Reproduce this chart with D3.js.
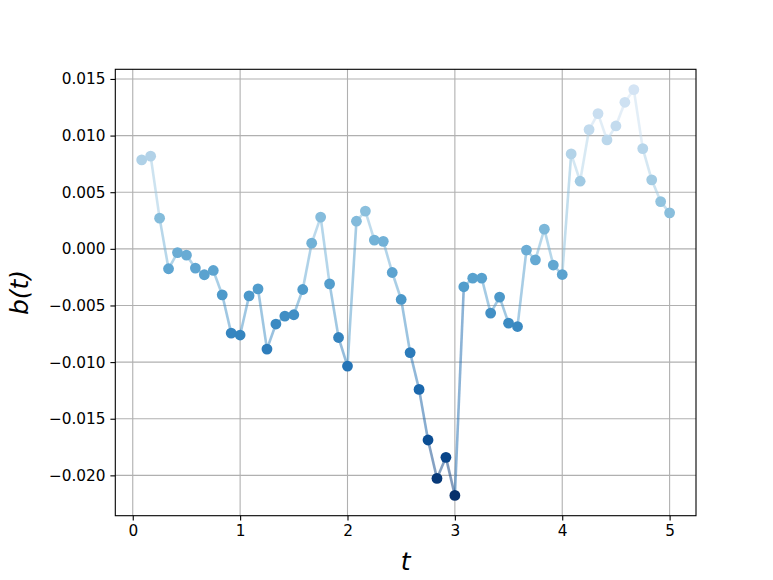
<!DOCTYPE html>
<html>
<head>
<meta charset="utf-8">
<script src="https://cdn.jsdelivr.net/npm/d3@7"></script>
<style>
  html, body { margin: 0; padding: 0; background: #fff; }
  svg { display: block; }
</style>
</head>
<body>
<svg id="chart" width="773" height="580"></svg>
<script>
// ---- data ----
const tValues = [
  0.0833, 0.1667, 0.2500, 0.3333, 0.4167, 0.5000, 0.5833, 0.6667, 0.7500, 0.8333,
  0.9167, 1.0000, 1.0833, 1.1667, 1.2500, 1.3333, 1.4167, 1.5000, 1.5833, 1.6667,
  1.7500, 1.8333, 1.9167, 2.0000, 2.0833, 2.1667, 2.2500, 2.3333, 2.4167, 2.5000,
  2.5833, 2.6667, 2.7500, 2.8333, 2.9167, 3.0000, 3.0833, 3.1667, 3.2500, 3.3333,
  3.4167, 3.5000, 3.5833, 3.6667, 3.7500, 3.8333, 3.9167, 4.0000, 4.0833, 4.1667,
  4.2500, 4.3333, 4.4167, 4.5000, 4.5833, 4.6667, 4.7500, 4.8333, 4.9167, 5.0000
];
const bValues = [
   0.00785,  0.00818,  0.00271, -0.00176, -0.00033, -0.00056, -0.00170, -0.00229, -0.00191, -0.00406,
  -0.00744, -0.00761, -0.00415, -0.00353, -0.00885, -0.00664, -0.00594, -0.00582, -0.00359,  0.00050,
   0.00280, -0.00309, -0.00783, -0.01035,  0.00244,  0.00333,  0.00077,  0.00066, -0.00209, -0.00447,
  -0.00916, -0.01241, -0.01688, -0.02027, -0.01841, -0.02177, -0.00335, -0.00259, -0.00259, -0.00567,
  -0.00426, -0.00656, -0.00686, -0.00011, -0.00097,  0.00174, -0.00143, -0.00227,  0.00838,  0.00597,
   0.01053,  0.01194,  0.00962,  0.01085,  0.01294,  0.01406,  0.00885,  0.00609,  0.00417,  0.00318
];
const xTicks = [0, 1, 2, 3, 4, 5];
const yTicks = [-0.020, -0.015, -0.010, -0.005, 0.000, 0.005, 0.010, 0.015];
const xLabel = "t";
const yLabel = "b(t)";

// ---- layout ----
const svg = d3.select("#chart");
const L = 115.3, R = 696, T = 69.3, B = 515.7;

const points = tValues.map((t, i) => ({ t, b: bValues[i] }));

const tExt = d3.extent(tValues), bExt = d3.extent(bValues);
const tPad = (tExt[1] - tExt[0]) * 0.05, bPad = (bExt[1] - bExt[0]) * 0.05;
const x = d3.scaleLinear().domain([tExt[0] - tPad, tExt[1] + tPad]).range([L, R]);
const y = d3.scaleLinear().domain([bExt[0] - bPad, bExt[1] + bPad]).range([B, T]);

const M = d3.max(bValues, v => Math.abs(v));
const cnorm = d3.scaleLinear().domain([-M, M]).range([1, 0]);
const color = v => d3.interpolateBlues(cnorm(v));

const font = "'DejaVu Sans', sans-serif";

// clip
svg.append("defs").append("clipPath").attr("id", "clip")
  .append("rect").attr("x", L).attr("y", T).attr("width", R - L).attr("height", B - T);

// grid
const grid = svg.append("g").attr("stroke", "#b0b0b0").attr("stroke-width", 1.1);
xTicks.forEach(v => grid.append("line")
  .attr("x1", x(v)).attr("x2", x(v)).attr("y1", T).attr("y2", B));
yTicks.forEach(v => grid.append("line")
  .attr("x1", L).attr("x2", R).attr("y1", y(v)).attr("y2", y(v)));

// line segments (coloured by segment midpoint value)
const plot = svg.append("g").attr("clip-path", "url(#clip)");
plot.selectAll("line.seg").data(d3.pairs(points)).join("line")
  .attr("class", "seg")
  .attr("x1", d => x(d[0].t)).attr("y1", d => y(d[0].b))
  .attr("x2", d => x(d[1].t)).attr("y2", d => y(d[1].b))
  .attr("stroke", d => color((d[0].b + d[1].b) / 2))
  .attr("stroke-opacity", 0.5)
  .attr("stroke-width", 2.6)
  .attr("stroke-linecap", "butt");

// points
plot.selectAll("circle").data(points).join("circle")
  .attr("cx", d => x(d.t)).attr("cy", d => y(d.b))
  .attr("r", 5.4)
  .attr("fill", d => color(d.b));

// axes
const fmtY = v => d3.format(".3f")(v).replace("-", "\u2212");
const xAxis = svg.append("g").attr("transform", `translate(0,${B})`)
  .call(d3.axisBottom(x).tickValues(xTicks).tickSize(4.9).tickPadding(4.9).tickFormat(d3.format("d")));
const yAxis = svg.append("g").attr("transform", `translate(${L},0)`)
  .call(d3.axisLeft(y).tickValues(yTicks).tickSize(4.9).tickPadding(4.9).tickFormat(fmtY));
[xAxis, yAxis].forEach(a => {
  a.select(".domain").remove();
  a.selectAll(".tick line").attr("stroke", "#000").attr("stroke-width", 1.1);
  a.selectAll(".tick text").attr("fill", "#000").style("font-family", font).style("font-size", "15.3px");
});

// spines
svg.append("rect").attr("x", L).attr("y", T).attr("width", R - L).attr("height", B - T)
  .attr("fill", "none").attr("stroke", "#000").attr("stroke-width", 1.1);

// labels
svg.append("text").attr("x", (L + R) / 2).attr("y", 570)
  .attr("text-anchor", "middle")
  .style("font-family", font).style("font-size", "25px").style("font-style", "italic")
  .text(xLabel);
svg.append("text")
  .attr("transform", `translate(28,${(T + B) / 2}) rotate(-90)`)
  .attr("text-anchor", "middle")
  .style("font-family", font).style("font-size", "25px").style("font-style", "italic")
  .text(yLabel);
</script>
</body>
</html>
